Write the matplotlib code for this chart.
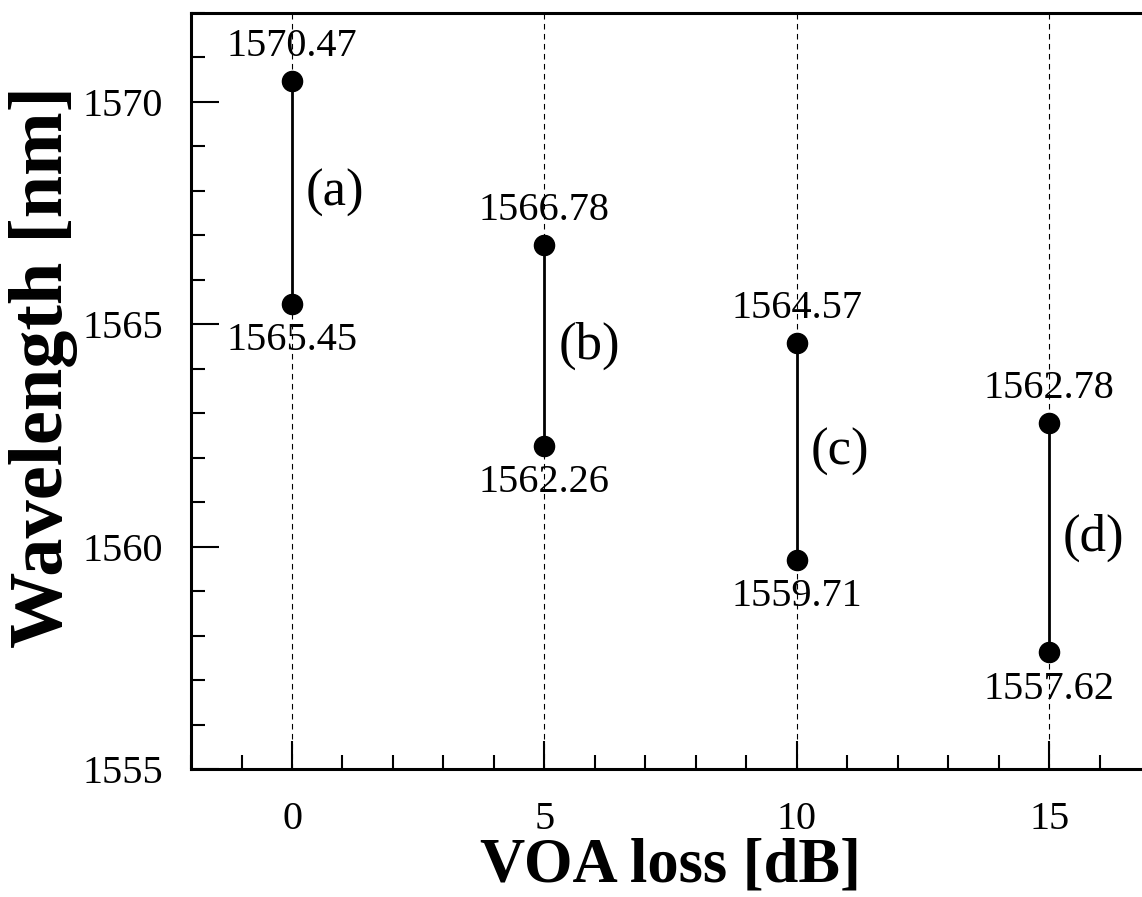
import matplotlib
matplotlib.use("Agg")
import matplotlib.pyplot as plt
from matplotlib.ticker import MultipleLocator

# data: wavelength range for each VOA loss setting
voa_loss = [0, 5, 10, 15]
wl_high = [1570.47, 1566.78, 1564.57, 1562.78]
wl_low = [1565.45, 1562.26, 1559.71, 1557.62]
tags = ["(a)", "(b)", "(c)", "(d)"]

plt.rcParams["font.family"] = ["Liberation Serif", "DejaVu Serif"]

fig = plt.figure(figsize=(11.42, 8.97), dpi=100)
ax = fig.add_axes([0.1673, 0.1427, 0.8398, 0.8428])

for x, hi, lo, tag in zip(voa_loss, wl_high, wl_low, tags):
    ax.axvline(x, color="black", linestyle=(0, (5, 4)), linewidth=0.8, zorder=1)
    ax.plot([x, x], [lo, hi], color="black", linewidth=2.0, marker="o",
            markersize=14.5, zorder=3)
    ax.annotate(f"{hi:.2f}", (x, hi), xytext=(0, 18), textcoords="offset points",
                ha="center", va="baseline", fontsize=29)
    ax.annotate(f"{lo:.2f}", (x, lo), xytext=(0, -13), textcoords="offset points",
                ha="center", va="top", fontsize=29)
    ax.annotate(tag, (x, (hi + lo) / 2), xytext=(10, 0), textcoords="offset points",
                ha="left", va="center", fontsize=38)

ax.set_xlim(-2, 17)
ax.set_ylim(1555, 1572)
ax.xaxis.set_major_locator(MultipleLocator(5))
ax.xaxis.set_minor_locator(MultipleLocator(1))
ax.yaxis.set_major_locator(MultipleLocator(5))
ax.yaxis.set_minor_locator(MultipleLocator(1))
ax.tick_params(which="both", direction="in", width=1.5, labelsize=29)
ax.tick_params(which="major", length=20)
ax.tick_params(which="minor", length=10)
ax.tick_params(axis="x", which="major", pad=23)
ax.tick_params(axis="y", which="major", pad=20)
for s in ax.spines.values():
    s.set_linewidth(2.2)
ax.spines["right"].set_visible(False)

ax.set_xlabel("VOA loss [dB]", fontsize=45, fontweight="bold")
ax.set_ylabel("Wavelength [nm]", fontsize=55, fontweight="bold")
ax.xaxis.label.set_verticalalignment("baseline")
ax.xaxis.set_label_coords(0.5, -0.149)
ax.yaxis.set_label_coords(-0.118, 0.532)

fig.savefig("out.png", dpi=100)
